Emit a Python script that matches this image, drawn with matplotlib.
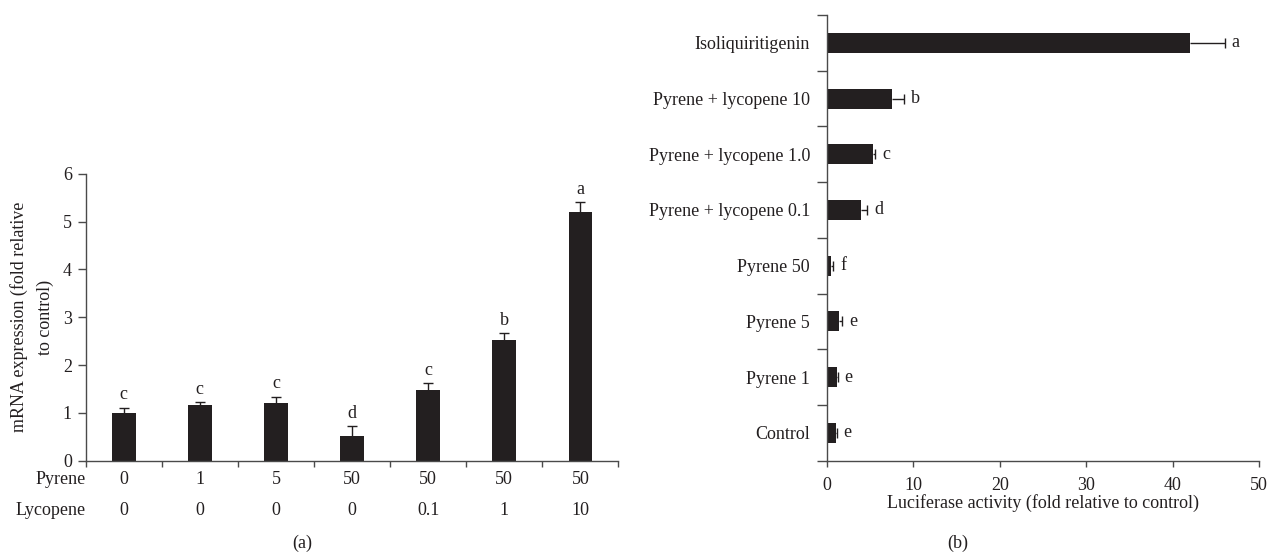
import matplotlib
matplotlib.use("Agg")
import matplotlib.pyplot as plt
import numpy as np
from matplotlib.ticker import FixedLocator, NullFormatter

plt.rcParams['font.family'] = ['Liberation Serif', 'DejaVu Serif']

INK = '#231f20'
AXIS = '#4a4a4a'

# Panel (a): mRNA expression
pyrene_dose = ['0', '1', '5', '50', '50', '50', '50']
lycopene_dose = ['0', '0', '0', '0', '0.1', '1', '10']
mrna_mean = [1.00, 1.16, 1.21, 0.52, 1.48, 2.52, 5.20]
mrna_err = [0.11, 0.07, 0.13, 0.20, 0.15, 0.15, 0.21]
mrna_letters = ['c', 'c', 'c', 'd', 'c', 'b', 'a']

# Panel (b): luciferase activity
treatments = ['Isoliquiritigenin', 'Pyrene + lycopene 10', 'Pyrene + lycopene 1.0',
              'Pyrene + lycopene 0.1', 'Pyrene 50', 'Pyrene 5', 'Pyrene 1', 'Control']
luc_mean = [42.0, 7.6, 5.3, 3.96, 0.46, 1.38, 1.15, 1.04]
luc_err = [4.0, 1.35, 0.3, 0.75, 0.31, 0.42, 0.12, 0.11]
luc_letters = ['a', 'b', 'c', 'd', 'f', 'e', 'e', 'e']

FS = 13
W, H = 1268, 560
fig = plt.figure(figsize=(W / 100, H / 100), dpi=100)


def px_axes(x0, y0, x1, y1):
    return fig.add_axes([x0 / W, 1 - y1 / H, (x1 - x0) / W, (y1 - y0) / H])


def style(ax):
    for s in ['top', 'right']:
        ax.spines[s].set_visible(False)
    for s in ['left', 'bottom']:
        ax.spines[s].set_color(AXIS)
        ax.spines[s].set_linewidth(1.0)
    ax.tick_params(colors=AXIS, labelcolor=INK, labelsize=FS, width=1.0)


# ---- (a) ----
axa = px_axes(85.7, 173.7, 618.4, 460.7)
style(axa)
xa = np.arange(len(mrna_mean))
top_a = np.array(mrna_mean) + np.array(mrna_err)
axa.bar(xa, mrna_mean, width=0.31, color=INK, zorder=2)
axa.vlines(xa, mrna_mean, top_a, color=INK, linewidth=1.0, zorder=3)
axa.plot(xa, top_a, linestyle='none', marker='_', markersize=7, markeredgewidth=1.0,
         color=INK, zorder=3)
for xi, t, lab in zip(xa, top_a, mrna_letters):
    axa.annotate(lab, (xi, t), xytext=(0, 3), textcoords='offset points',
                 ha='center', va='bottom', fontsize=FS, color=INK)
axa.set_xlim(-0.5, len(xa) - 0.5)
axa.set_ylim(0, 6)
axa.set_yticks(range(0, 7))
axa.xaxis.set_major_locator(FixedLocator(np.arange(-0.5, len(xa), 1.0)))
axa.xaxis.set_major_formatter(NullFormatter())
axa.tick_params(axis='x', length=4)
axa.tick_params(axis='y', length=6, pad=4)
tr = axa.get_xaxis_transform()
row1, row2 = -0.065, -0.172
for xi, p, l in zip(xa, pyrene_dose, lycopene_dose):
    axa.text(xi, row1, p, transform=tr, ha='center', va='center', fontsize=FS, color=INK)
    axa.text(xi, row2, l, transform=tr, ha='center', va='center', fontsize=FS, color=INK)
axa.text(0.0, row1, 'Pyrene', transform=axa.transAxes, ha='right', va='center', fontsize=FS, color=INK)
axa.text(0.0, row2, 'Lycopene', transform=axa.transAxes, ha='right', va='center', fontsize=FS, color=INK)
axa.set_ylabel('mRNA expression (fold relative\nto control)', fontsize=FS, color=INK,
               linespacing=1.72, labelpad=6)
fig.text(302 / W, 1 - 543 / H, '(a)', ha='center', va='center', fontsize=FS, color=INK)

# ---- (b) ----
axb = px_axes(826.7, 15, 1259.3, 460.7)
style(axb)
yb = np.arange(len(luc_mean))
end_b = np.array(luc_mean) + np.array(luc_err)
axb.barh(yb, luc_mean, height=0.36, color=INK, zorder=2)
axb.hlines(yb, luc_mean, end_b, color=INK, linewidth=1.0, zorder=3)
axb.plot(end_b, yb, linestyle='none', marker='|', markersize=7, markeredgewidth=1.0,
         color=INK, zorder=3)
for yi, t, lab in zip(yb, end_b, luc_letters):
    axb.annotate(lab, (t, yi), xytext=(5, 0), textcoords='offset points',
                 ha='left', va='center', fontsize=FS, color=INK)
axb.set_xlim(0, 50)
axb.set_ylim(len(yb) - 0.5, -0.5)
axb.set_xticks(range(0, 51, 10))
axb.set_yticks(yb)
axb.set_yticklabels(treatments)
axb.yaxis.set_minor_locator(FixedLocator(np.arange(-0.5, len(yb), 1.0)))
axb.tick_params(axis='y', which='major', length=0, pad=12)
axb.tick_params(axis='y', which='minor', length=7, color=AXIS, width=1.0)
axb.tick_params(axis='x', length=4, pad=8)
axb.set_xlabel('Luciferase activity (fold relative to control)', fontsize=FS, color=INK, labelpad=0)
fig.text(958 / W, 1 - 543 / H, '(b)', ha='center', va='center', fontsize=FS, color=INK)

fig.savefig('out.png', dpi=100)
